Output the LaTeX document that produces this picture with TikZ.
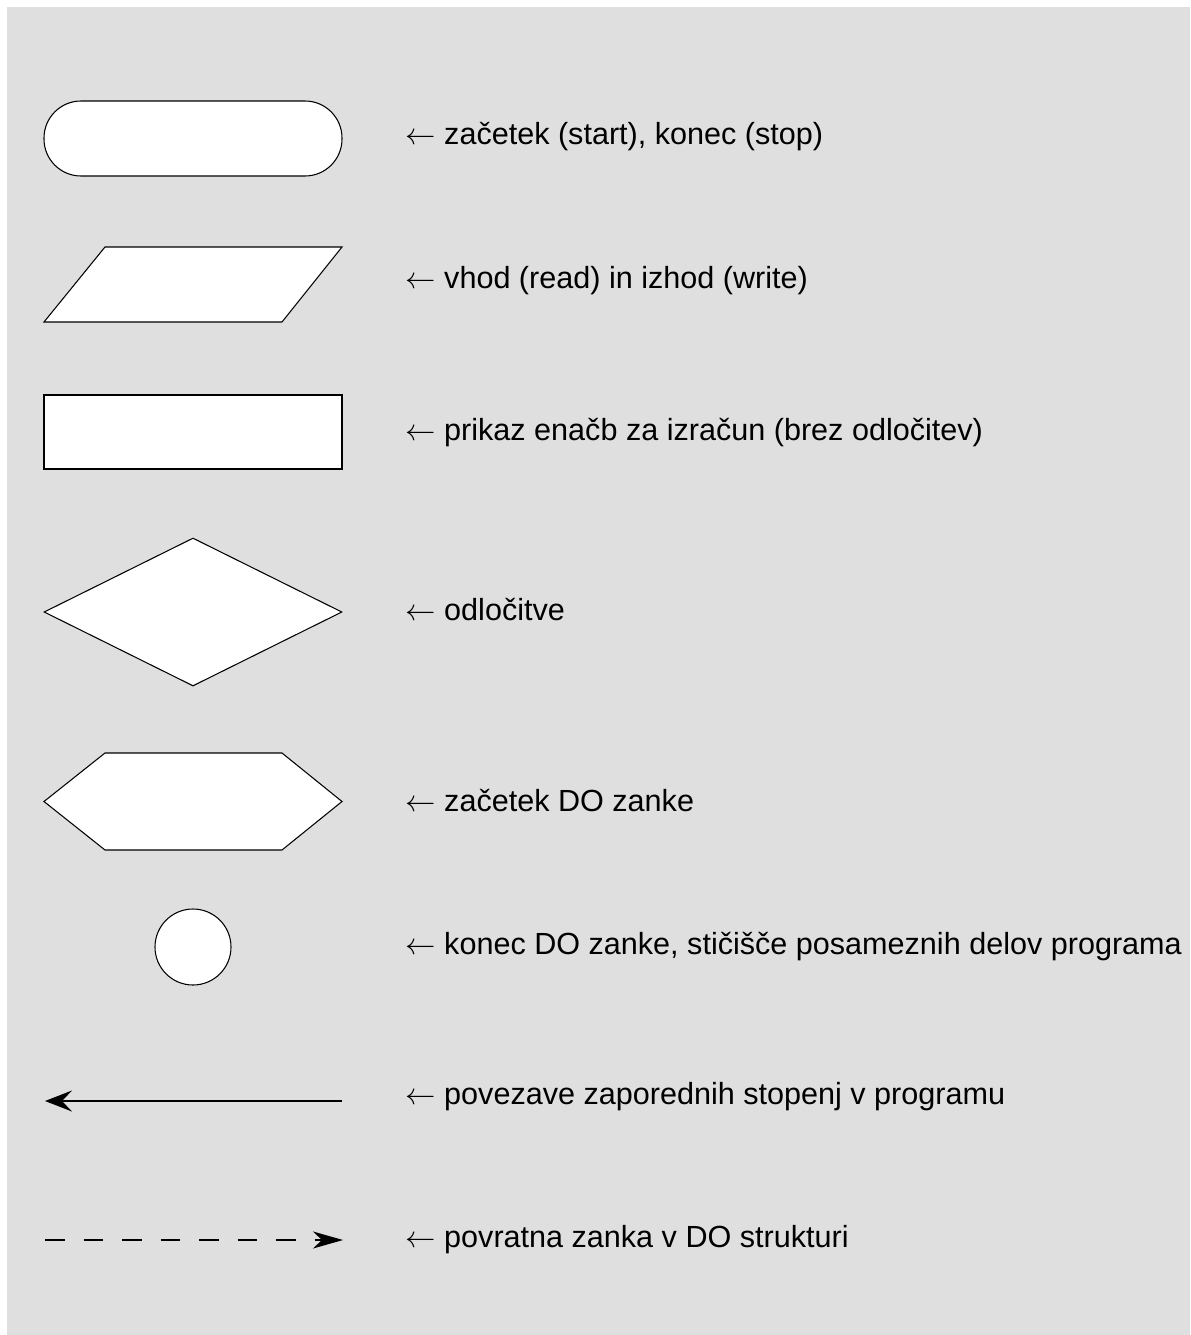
\documentclass[tikz,border=0pt]{standalone}
\usepackage{fontspec}
\setmainfont{Liberation Sans}
\usetikzlibrary{arrows.meta,shapes.geometric}

\begin{document}
\begin{tikzpicture}[>=Stealth,
  symbol/.style={draw, fill=white, line width=0.6pt, inner sep=0pt},
  terminal/.style={symbol, rectangle, rounded corners=0.74cm, minimum width=5.96cm, minimum height=1.5cm},
  procbox/.style={symbol, rectangle, minimum width=5.96cm, minimum height=1.48cm},
  decision/.style={symbol, diamond, minimum width=5.96cm, minimum height=2.96cm},
  joint/.style={symbol, circle, minimum size=1.52cm},
  legend/.style={anchor=west, inner sep=0pt, font=\fontsize{17.4}{20}\selectfont}
  ]

% background
\fill[white] (0,0) rectangle (23.8,-26.7);
\fill[gray!25] (0.14,-0.14) rectangle (23.8,-26.7);

% symbols
\node[terminal] (start) at (3.86,-2.77) {};
\draw[fill=white, line width=0.6pt] (2.10,-4.94) -- (6.84,-4.94) -- (5.64,-6.44) -- (0.88,-6.44) -- cycle;
\coordinate (io) at (3.86,-5.69);
\node[procbox] (proc) at (3.86,-8.64) {};
\node[decision] (dec) at (3.86,-12.24) {};
\draw[fill=white, line width=0.6pt] (0.88,-16.03) -- (2.10,-15.06) -- (5.64,-15.06) -- (6.84,-16.03) -- (5.64,-17.00) -- (2.10,-17.00) -- cycle;
\coordinate (loop) at (3.86,-16.03);
\node[joint] (join) at (3.86,-18.94) {};

\coordinate (a1) at (6.84,-22.02);
\coordinate (a2) at (0.90,-22.02);
\draw[->, line width=1.1pt, >={Stealth[length=0.54cm, width=0.42cm, inset=0.2cm]}] (a1) -- (a2);
\coordinate (b1) at (0.90,-24.80);
\coordinate (b2) at (6.86,-24.80);
\draw[->, line width=0.7pt, dash pattern=on 0.39cm off 0.38cm, >={Stealth[length=0.6cm, width=0.34cm, inset=0.18cm]}] (b1) -- (b2);

% labels
\node[legend] (l1) at (8.1,-2.74) {$\leftarrow$ začetek (start), konec (stop)};
\node[legend] (l2) at (8.1,-5.62) {$\leftarrow$ vhod (read) in izhod (write)};
\node[legend] (l3) at (8.1,-8.66) {$\leftarrow$ prikaz enačb za izračun (brez odločitev)};
\node[legend] (l4) at (8.1,-12.20) {$\leftarrow$ odločitve};
\node[legend] (l5) at (8.1,-16.02) {$\leftarrow$ začetek DO zanke};
\node[legend] (l6) at (8.1,-18.94) {$\leftarrow$ konec DO zanke, stičišče posameznih delov programa};
\node[legend] (l7) at (8.1,-21.94) {$\leftarrow$ povezave zaporednih stopenj v programu};
\node[legend] (l8) at (8.1,-24.80) {$\leftarrow$ povratna zanka v DO strukturi};

\end{tikzpicture}
\end{document}
